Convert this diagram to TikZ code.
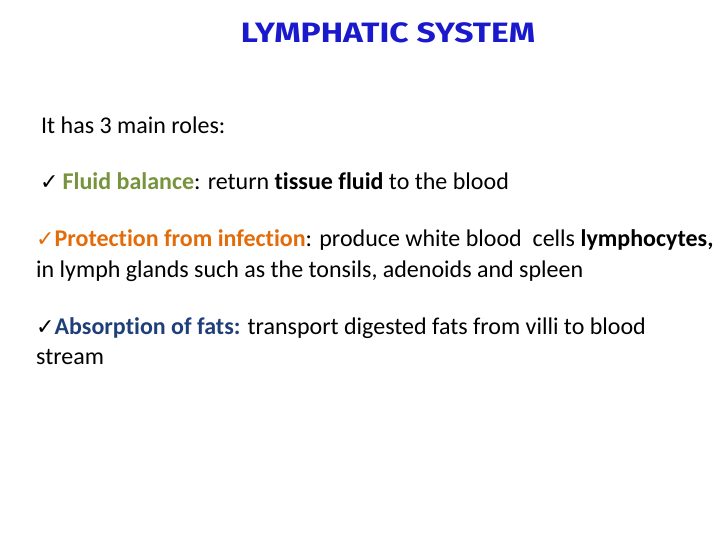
\documentclass[tikz,border=0pt]{standalone}
\usepackage{fontspec}
\setmainfont{Carlito}[Ligatures={NoCommon}]
\newfontfamily\titlefont{Fira Sans}
\newfontfamily\symfont{DejaVu Sans}
\definecolor{olivec}{HTML}{77933C}
\definecolor{orangec}{HTML}{E36C09}
\definecolor{bluec}{HTML}{1F3F7A}
\definecolor{titleblue}{HTML}{1A1ACC}
\newcommand{\chk}{{\symfont\fontsize{22}{22}\selectfont ✓}}
\begin{document}
\begin{tikzpicture}[x=1pt,y=-1pt,
  txt/.style={anchor=base west,inner sep=0pt,font=\fontsize{24}{28}\selectfont}]
\useasboundingbox (0,0) rectangle (720,540);
\node[anchor=base,inner sep=0pt,font=\titlefont\bfseries\fontsize{28}{32}\selectfont,text=titleblue,xscale=1.2] (title) at (388,43) {LYMPHATIC SYSTEM};
\node[txt] (intro) at (41,134) {It has 3 main roles:};
\node[txt] (r1) at (40,190) {\chk\hspace{4pt}\textcolor{olivec}{\textbf{Fluid balance}}: return \textbf{tissue fluid} to the blood};
\node[txt] (r2) at (36,247) {\textcolor{orangec}{\chk}\textcolor{orangec}{\textbf{Protection from infection}}: produce white blood\ \ cells \textbf{lymphocytes,}};
\node[txt] (r2b) at (36,277) {in lymph glands such as the tonsils, adenoids and spleen};
\node[txt] (r3) at (36,334) {\chk\textcolor{bluec}{\textbf{Absorption of fats:}} transport digested fats from villi to blood};
\node[txt] (r3b) at (36,364) {stream};
\end{tikzpicture}
\end{document}
